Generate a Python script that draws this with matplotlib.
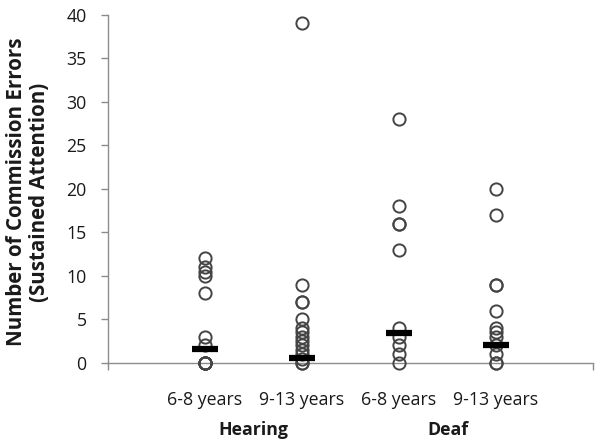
import matplotlib.pyplot as plt
from matplotlib.transforms import blended_transform_factory

INK = "#1a1a1a"
AXIS = "#8c8c8c"
RING = "#444444"

group_labels = ["6-8 years", "9-13 years", "6-8 years", "9-13 years"]
outer_labels = ["Hearing", "Deaf"]

hearing_young = [12, 11, 10.5, 10, 8, 3, 2, 0, 0, 0, 0, 0]
hearing_old = [39, 9, 7, 7, 5, 4, 3.5, 3, 2.5, 2, 1.5, 1, 0.5, 0, 0]
deaf_young = [28, 18, 16, 16, 13, 4, 3, 2, 1, 0]
deaf_old = [20, 17, 9, 9, 6, 4, 3.5, 3, 2, 1, 0, 0]
central = [1.6, 0.6, 3.4, 2.0]

series = [hearing_young, hearing_old, deaf_young, deaf_old]

plt.rcParams["font.family"] = ["Open Sans", "DejaVu Sans"]

fig = plt.figure(figsize=(6.04, 4.48), dpi=100)
ax = fig.add_axes([0.178, 0.19, 0.804, 0.777])

for pos, values in enumerate(series, start=1):
    ax.plot([pos] * len(values), values, linestyle="none", marker="o", markersize=8.8,
            markerfacecolor="none", markeredgecolor=RING, markeredgewidth=1.4, zorder=3, clip_on=False)

ax.plot(range(1, 5), central, linestyle="none", marker="_", markersize=19,
        markeredgewidth=4.5, color="black", zorder=4, clip_on=False)

ax.set_xlim(0, 5)
ax.set_ylim(0, 40)
ax.set_yticks(range(0, 41, 5))
ax.set_xticks([0, 5])
ax.set_xticklabels([])

for side in ["top", "right"]:
    ax.spines[side].set_visible(False)
for side in ["left", "bottom"]:
    ax.spines[side].set_color(AXIS)
    ax.spines[side].set_linewidth(1.0)

ax.tick_params(axis="y", direction="out", length=5, width=1.0, color=AXIS, pad=10,
               labelsize=12.8, labelcolor=INK)
ax.tick_params(axis="x", direction="out", length=5, width=1.0, color=AXIS)

trans = blended_transform_factory(ax.transData, fig.transFigure)
for pos, label in enumerate(group_labels, start=1):
    ax.text(pos, 1 - 400 / 448, label, transform=trans, ha="center", va="center",
            fontsize=12.8, color=INK)
for center, label in zip([1.5, 3.5], outer_labels):
    ax.text(center, 1 - 430 / 448, label, transform=trans, ha="center", va="center",
            fontsize=12.8, weight="bold", color=INK)

fig.text(17 / 604, 1 - 192 / 448, "Number of Commission Errors", rotation=90,
         ha="center", va="center", fontsize=14.8, weight="bold", color=INK)
fig.text(40 / 604, 1 - 192 / 448, "(Sustained Attention)", rotation=90,
         ha="center", va="center", fontsize=14.8, weight="bold", color=INK)

fig.savefig("out.png", dpi=100)
